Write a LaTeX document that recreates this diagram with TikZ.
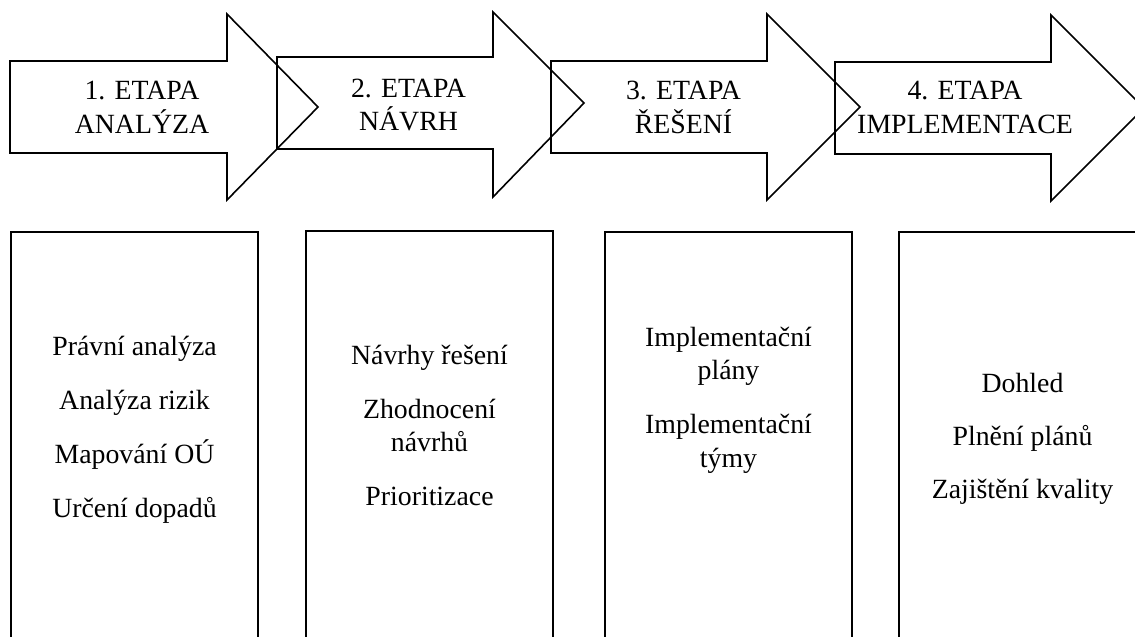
\documentclass[tikz,border=0pt]{standalone}
\usepackage{fontspec}
\setmainfont{Liberation Serif}
\begin{document}
\begin{tikzpicture}[x=1pt,y=-1pt,
  outline/.style={draw=black,line width=1.6pt,line join=miter},
  lbl/.style={font=\fontsize{27.8}{33}\selectfont,anchor=base,inner sep=0pt,text=black}]
\useasboundingbox (0,0) rectangle (1135,637);
\clip (0,0) rectangle (1135,637);
% stage arrows
\draw[outline] (10,61) -- (227,61) -- (227,14) -- (318,107) -- (227,200) -- (227,153) -- (10,153) -- cycle;
\draw[outline] (277,57) -- (493,57) -- (493,12) -- (584,103) -- (493,197) -- (493,149) -- (277,149) -- cycle;
\draw[outline] (551,61) -- (767,61) -- (767,14) -- (860,107) -- (767,200) -- (767,153) -- (551,153) -- cycle;
\draw[outline] (835,62) -- (1051,62) -- (1051,15) -- (1144,108) -- (1051,201) -- (1051,154) -- (835,154) -- cycle;
% arrow labels
\node[lbl] (a1l1) at (142,99) {1. ETAPA};
\node[lbl] (a1l2) at (142,133) {ANALÝZA};
\node[lbl] (a2l1) at (408.5,97) {2. ETAPA};
\node[lbl] (a2l2) at (408.5,130) {NÁVRH};
\node[lbl] (a3l1) at (683.5,99) {3. ETAPA};
\node[lbl] (a3l2) at (683.5,133) {ŘEŠENÍ};
\node[lbl] (a4l1) at (965,99) {4. ETAPA};
\node[lbl] (a4l2) at (965,133) {IMPLEMENTACE};
% boxes
\draw[outline] (11,232) rectangle (258,660);
\draw[outline] (306,231) rectangle (553,660);
\draw[outline] (605,232) rectangle (852,660);
\draw[outline] (899,232) rectangle (1146,660);
% box texts
\node[lbl] (b1l1) at (134.5,355) {Právní analýza};
\node[lbl] (b1l2) at (134.5,409) {Analýza rizik};
\node[lbl] (b1l3) at (134.5,463) {Mapování OÚ};
\node[lbl] (b1l4) at (134.5,517) {Určení dopadů};
\node[lbl] (b2l1) at (429.5,364) {Návrhy řešení};
\node[lbl] (b2l2) at (429.5,418) {Zhodnocení};
\node[lbl] (b2l3) at (429.5,451) {návrhů};
\node[lbl] (b2l4) at (429.5,505) {Prioritizace};
\node[lbl] (b3l1) at (728.5,346) {Implementační};
\node[lbl] (b3l2) at (728.5,379) {plány};
\node[lbl] (b3l3) at (728.5,433) {Implementační};
\node[lbl] (b3l4) at (728.5,467) {týmy};
\node[lbl] (b4l1) at (1022.5,392) {Dohled};
\node[lbl] (b4l2) at (1022.5,445) {Plnění plánů};
\node[lbl] (b4l3) at (1022.5,498) {Zajištění kvality};
\end{tikzpicture}
\end{document}
